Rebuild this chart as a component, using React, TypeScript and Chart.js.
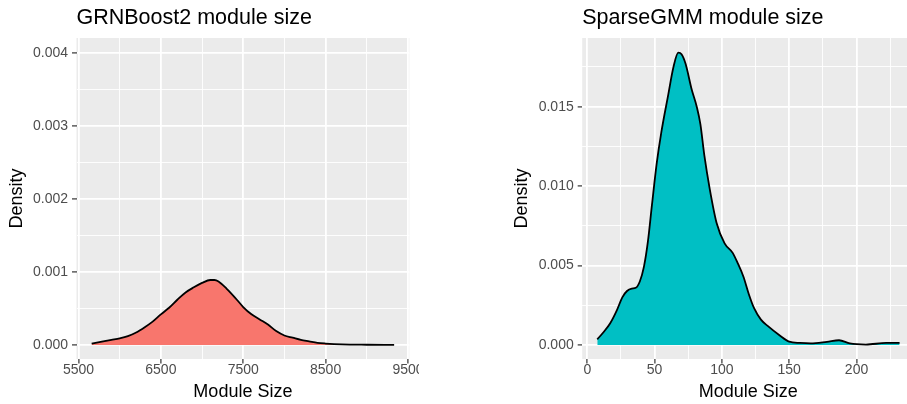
import { useEffect, useRef } from 'react';
import { Chart, registerables } from 'chart.js';

Chart.register(...registerables);

const FONT = '"Liberation Sans", Arial, Helvetica, sans-serif';

// GRNBoost2: kernel density of module sizes
const grnSize = [5660, 5800, 5900, 6000, 6100, 6200, 6300, 6400, 6500, 6600, 6700, 6800, 6900, 7000, 7100, 7150, 7200, 7300, 7400, 7500, 7600, 7700, 7800, 7900, 8000, 8100, 8200, 8300, 8400, 8500, 8700, 9000, 9332];
const grnDensity = [0.00002, 0.00005, 0.00007, 0.00009, 0.00012, 0.00017, 0.00024, 0.00032, 0.00042, 0.00051, 0.00062, 0.00072, 0.00079, 0.00085, 0.00089, 0.00089, 0.00087, 0.00077, 0.00065, 0.00052, 0.00042, 0.00035, 0.00028, 0.00019, 0.00013, 0.0001, 0.00007, 0.00005, 0.00003, 0.00002, 0.000008, 0.000003, 0.000001];
const grnXMajor = [5500, 6500, 7500, 8500, 9500];
const grnXMinor = [6000, 7000, 8000, 9000];
const grnYMajor = [0, 0.001, 0.002, 0.003, 0.004];
const grnYMinor = [0.0005, 0.0015, 0.0025, 0.0035];

// SparseGMM: kernel density of module sizes
const gmmSize = [7.4, 12, 17, 22, 26, 29.5, 33, 36, 39, 42, 45, 48, 51.5, 55, 60, 64, 67.6, 70, 73, 77.5, 81.3, 84, 87, 91, 96, 102, 108, 112, 116, 120, 124, 129, 134, 143, 150, 158, 166, 178, 187, 195, 207, 222, 232];
const gmmDensity = [0.00036, 0.0008, 0.00137, 0.0022, 0.003, 0.0034, 0.00355, 0.0036, 0.004, 0.0049, 0.0065, 0.0088, 0.0114, 0.0134, 0.0157, 0.0175, 0.0184, 0.0183, 0.0177, 0.0161, 0.015, 0.0139, 0.0119, 0.0098, 0.0077, 0.0064, 0.0058, 0.0051, 0.0043, 0.0032, 0.0023, 0.0016, 0.0012, 0.0006, 0.00021, 0.00013, 0.0001, 0.0002, 0.0003, 0.0001, 0.00003, 0.00013, 0.00013];
const gmmXMajor = [0, 50, 100, 150, 200];
const gmmXMinor = [25, 75, 125, 175, 225];
const gmmYMajor = [0, 0.005, 0.01, 0.015];
const gmmYMinor = [0.0025, 0.0075, 0.0125, 0.0175];

type PanelSpec = {
  title: string;
  size: number[];
  density: number[];
  fill: string;
  xMin: number;
  xMax: number;
  yMin: number;
  yMax: number;
  xMajor: number[];
  xMinor: number[];
  yMajor: number[];
  yMinor: number[];
  canvasWidth: number;
  clipWidth: number;
  left: number;
  axisWidth: number;
  padRight: number;
  yTitlePad: number;
};

const HEIGHT = 404;
const PANEL_TOP = 38;
const PANEL_BOTTOM = 359;
const TITLE_SIZE = 21.5;
const TITLE_PAD_TOP = 5.4;

const panels: PanelSpec[] = [
  {
    title: 'GRNBoost2 module size',
    size: grnSize,
    density: grnDensity,
    fill: '#F8766D',
    xMin: 5476,
    xMax: 9516,
    yMin: -0.000192,
    yMax: 0.004205,
    xMajor: grnXMajor,
    xMinor: grnXMinor,
    yMajor: grnYMajor,
    yMinor: grnYMinor,
    canvasWidth: 440,
    clipWidth: 419,
    left: 0,
    axisWidth: 76.5,
    padRight: 30.7,
    yTitlePad: 6.2,
  },
  {
    title: 'SparseGMM module size',
    size: gmmSize,
    density: gmmDensity,
    fill: '#00BFC4',
    xMin: -3.8,
    xMax: 243,
    yMin: -0.000881,
    yMax: 0.019324,
    xMajor: gmmXMajor,
    xMinor: gmmXMinor,
    yMajor: gmmYMajor,
    yMinor: gmmYMinor,
    canvasWidth: 440,
    clipWidth: 407,
    left: 500,
    axisWidth: 82.2,
    padRight: 25.6,
    yTitlePad: 11.5,
  },
];

// grey panel behind the grid, ggplot style
const panelBackground = {
  id: 'panelBackground',
  beforeDraw(chart: any) {
    const { ctx, chartArea } = chart;
    ctx.save();
    ctx.fillStyle = '#EBEBEB';
    ctx.fillRect(chartArea.left, chartArea.top, chartArea.right - chartArea.left, chartArea.bottom - chartArea.top);
    ctx.restore();
  },
};

function gridStyle(major: number[]) {
  const isMajor = (ctx: any) => ctx.tick && major.includes(ctx.tick.value);
  return {
    color: '#FFFFFF',
    lineWidth: (ctx: any) => (isMajor(ctx) ? 1.8 : 0.9),
    drawTicks: true,
    tickLength: 4.5,
    tickWidth: 1.2,
    tickColor: (ctx: any) => (isMajor(ctx) ? '#333333' : 'rgba(0,0,0,0)'),
  };
}

function setTicks(major: number[], minor: number[]) {
  return (scale: any) => {
    scale.ticks = [...major, ...minor].sort((a, b) => a - b).map((v) => ({ value: v }));
  };
}

function DensityPanel({ spec }: { spec: PanelSpec }) {
  const ref = useRef<HTMLCanvasElement>(null);

  useEffect(() => {
    if (!ref.current) return;
    const xAxisHeight = HEIGHT - PANEL_BOTTOM;
    const titleLine = TITLE_SIZE * 1.2;
    const chart = new Chart(ref.current, {
      type: 'line',
      data: {
        datasets: [
          {
            data: spec.size.map((x, i) => ({ x, y: spec.density[i] })),
            borderColor: '#000000',
            borderWidth: 1.8,
            backgroundColor: spec.fill,
            fill: 'origin',
            pointRadius: 0,
            cubicInterpolationMode: 'monotone',
          },
        ],
      },
      options: {
        responsive: false,
        animation: false,
        devicePixelRatio: 1,
        layout: { padding: { left: 0, right: spec.padRight, top: 0, bottom: 0 } },
        plugins: {
          legend: { display: false },
          tooltip: { enabled: false },
          title: {
            display: true,
            text: spec.title,
            align: 'start',
            fullSize: false,
            color: '#000000',
            font: { family: FONT, size: TITLE_SIZE, weight: 'normal', lineHeight: 1.2 },
            padding: { top: TITLE_PAD_TOP, bottom: PANEL_TOP - TITLE_PAD_TOP - titleLine },
          },
        },
        scales: {
          x: {
            type: 'linear',
            min: spec.xMin,
            max: spec.xMax,
            afterBuildTicks: setTicks(spec.xMajor, spec.xMinor),
            afterFit: (scale: any) => {
              scale.height = xAxisHeight;
            },
            border: { display: false },
            grid: gridStyle(spec.xMajor),
            ticks: {
              autoSkip: false,
              maxRotation: 0,
              padding: -1.5,
              color: '#4D4D4D',
              font: { family: FONT, size: 14 },
              callback: (v: any) => (spec.xMajor.includes(v) ? String(v) : ''),
            },
            title: {
              display: true,
              text: 'Module Size',
              color: '#000000',
              font: { family: FONT, size: 18, lineHeight: 1.2 },
              padding: { top: 0, bottom: 1.5 },
            },
          },
          y: {
            type: 'linear',
            min: spec.yMin,
            max: spec.yMax,
            afterBuildTicks: setTicks(spec.yMajor, spec.yMinor),
            afterFit: (scale: any) => {
              scale.width = spec.axisWidth;
            },
            border: { display: false },
            grid: gridStyle(spec.yMajor),
            ticks: {
              autoSkip: false,
              padding: 4,
              color: '#4D4D4D',
              font: { family: FONT, size: 14 },
              callback: (v: any) => (spec.yMajor.includes(v) ? Number(v).toFixed(3) : ''),
            },
            title: {
              display: true,
              text: 'Density',
              color: '#000000',
              font: { family: FONT, size: 18, lineHeight: 1.2 },
              padding: { top: spec.yTitlePad, bottom: 0 },
            },
          },
        },
      },
      plugins: [panelBackground],
    } as any);
    return () => chart.destroy();
  }, [spec]);

  return (
    <div
      style={{
        position: 'absolute',
        left: spec.left,
        top: 0,
        width: spec.clipWidth,
        height: HEIGHT,
        overflow: 'hidden',
      }}
    >
      <canvas
        ref={ref}
        width={spec.canvasWidth}
        height={HEIGHT}
        style={{ display: 'block', width: spec.canvasWidth, height: HEIGHT }}
      />
    </div>
  );
}

export default function App() {
  return (
    <div
      style={{
        position: 'fixed',
        left: 0,
        top: 0,
        width: 907,
        height: HEIGHT,
        overflow: 'hidden',
        background: '#FFFFFF',
      }}
    >
      {panels.map((p) => (
        <DensityPanel key={p.title} spec={p} />
      ))}
    </div>
  );
}
